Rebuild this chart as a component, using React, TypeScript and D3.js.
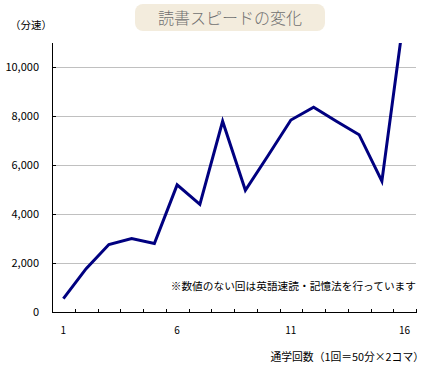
import { useRef, useEffect } from "react";
import * as d3 from "d3";

const rounds = ["1", "2", "3", "4", "5", "6", "7", "8", "9", "10", "11", "12", "13", "14", "15", "16"];
const speeds = [550, 1770, 2760, 3000, 2800, 5200, 4400, 7800, 4980, 6400, 7850, 8370, 7800, 7250, 5350, 12300];
const yTicks = [0, 2000, 4000, 6000, 8000, 10000];
const xLabels = ["1", "6", "11", "16"];

const FONT = "'Noto Sans CJK JP', sans-serif";

const App = () => {
  const ref = useRef<SVGSVGElement | null>(null);

  useEffect(() => {
    if (ref.current === null) return;
    const svg = d3.select(ref.current);
    svg.selectAll("*").remove();

    const margin = { top: 43, right: 16, bottom: 56, left: 52 };
    const width = 432;
    const height = 368;

    const x = d3
      .scaleBand()
      .domain(rounds)
      .range([margin.left, width - margin.right]);
    const y = d3
      .scaleLinear()
      .domain([0, 11000])
      .range([height - margin.bottom, margin.top]);

    const x0 = margin.left;
    const x1 = width - margin.right;
    const yBase = y(0);

    svg.append("rect").attr("width", width).attr("height", height).attr("fill", "#fff");

    // title box
    svg
      .append("rect")
      .attr("x", 135)
      .attr("y", 4)
      .attr("width", 190)
      .attr("height", 27)
      .attr("rx", 8)
      .attr("fill", "#f3ecdd");
    svg
      .append("text")
      .attr("x", 230)
      .attr("y", 24)
      .attr("text-anchor", "middle")
      .attr("font-family", FONT)
      .attr("font-size", 16)
      .attr("font-weight", 300)
      .attr("fill", "#707070")
      .text("読書スピードの変化");

    svg
      .append("text")
      .attr("x", 10)
      .attr("y", 29)
      .attr("font-family", FONT)
      .attr("font-size", 10.5)
      .attr("fill", "#000")
      .text("（分速）");

    // gridlines
    svg
      .selectAll(".grid")
      .data(yTicks.filter((t) => t > 0))
      .enter()
      .append("line")
      .attr("x1", x0)
      .attr("x2", x1)
      .attr("y1", (d) => Math.round(y(d)) + 0.5)
      .attr("y2", (d) => Math.round(y(d)) + 0.5)
      .attr("stroke", "#c0c0c0")
      .attr("stroke-width", 1);

    // y axis
    svg
      .append("line")
      .attr("x1", x0 + 0.5)
      .attr("x2", x0 + 0.5)
      .attr("y1", margin.top)
      .attr("y2", yBase)
      .attr("stroke", "#000");
    svg
      .selectAll(".ytick")
      .data(yTicks)
      .enter()
      .append("line")
      .attr("x1", x0)
      .attr("x2", x0 + 4)
      .attr("y1", (d) => Math.round(y(d)) + 0.5)
      .attr("y2", (d) => Math.round(y(d)) + 0.5)
      .attr("stroke", "#000");
    svg
      .selectAll(".ylab")
      .data(yTicks)
      .enter()
      .append("text")
      .attr("x", 39)
      .attr("y", (d) => y(d) + 4)
      .attr("text-anchor", "end")
      .attr("font-family", FONT)
      .attr("font-size", 11)
      .text((d) => d3.format(",")(d));

    // x axis
    svg
      .append("line")
      .attr("x1", x0)
      .attr("x2", x1 + 1)
      .attr("y1", Math.round(yBase) + 0.5)
      .attr("y2", Math.round(yBase) + 0.5)
      .attr("stroke", "#000");
    const bounds = rounds.map((r) => x(r) ?? 0).concat([x1]);
    svg
      .selectAll(".xtick")
      .data(bounds)
      .enter()
      .append("line")
      .attr("x1", (d) => Math.round(d) + 0.5)
      .attr("x2", (d) => Math.round(d) + 0.5)
      .attr("y1", Math.round(yBase) - 3)
      .attr("y2", Math.round(yBase) + 1)
      .attr("stroke", "#000");
    svg
      .selectAll(".xlab")
      .data(xLabels)
      .enter()
      .append("text")
      .attr("x", (d) => (x(d) ?? 0) + x.bandwidth() / 2)
      .attr("y", yBase + 22)
      .attr("text-anchor", "middle")
      .attr("font-family", FONT)
      .attr("font-size", 10)
      .text((d) => d);

    // line, clipped to plot area
    svg
      .append("clipPath")
      .attr("id", "plotclip")
      .append("rect")
      .attr("x", x0)
      .attr("y", margin.top)
      .attr("width", x1 - x0)
      .attr("height", yBase - margin.top);

    const line = d3
      .line<number>()
      .x((_, i) => (x(rounds[i]) ?? 0) + x.bandwidth() / 2)
      .y((d) => y(d));

    svg
      .append("path")
      .attr("clip-path", "url(#plotclip)")
      .attr("d", line(speeds))
      .attr("fill", "none")
      .attr("stroke", "#000080")
      .attr("stroke-width", 3)
      .attr("stroke-linejoin", "miter");

    // note
    svg
      .append("text")
      .attr("x", 416)
      .attr("y", 290)
      .attr("text-anchor", "end")
      .attr("font-family", FONT)
      .attr("font-size", 10.7)
      .text("※数値のない回は英語速読・記憶法を行っています");

    // x axis title
    svg
      .append("text")
      .attr("x", 424)
      .attr("y", 361)
      .attr("text-anchor", "end")
      .attr("font-family", FONT)
      .attr("font-size", 10.8)
      .text("通学回数（1回＝50分×2コマ）");
  }, []);

  return (
    <svg
      ref={ref}
      width={432}
      height={368}
      style={{ position: "absolute", left: 0, top: 0, display: "block" }}
    />
  );
};

export default App;
